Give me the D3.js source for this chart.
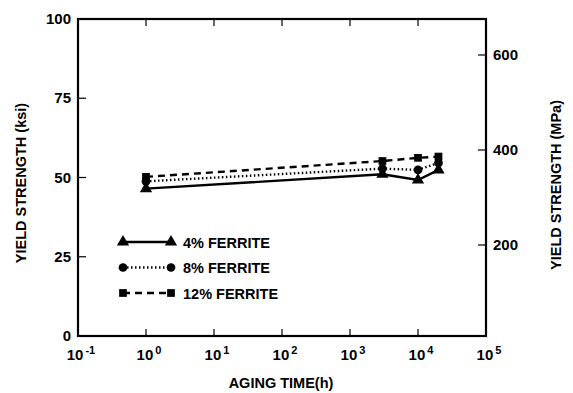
<!DOCTYPE html>
<html>
<head>
<meta charset="utf-8">
<script src="https://cdn.jsdelivr.net/npm/d3@7"></script>
<style>
  body { margin: 0; background: #fff; }
  text { font-family: "Liberation Sans", Arial, sans-serif; font-weight: bold; fill: #000; }
</style>
</head>
<body>
<svg id="chart" width="573" height="393"></svg>
<script>
// aging time (h)
const hours = [1, 3000, 10000, 20000];
// yield strength (ksi)
const ferrite4 = [46.5, 51, 49.2, 52.4];
const ferrite8 = [48.8, 52.8, 52.4, 54.6];
const ferrite12 = [50.2, 55.2, 56.2, 56.6];

const xTicks = [-1, 0, 1, 2, 3, 4, 5];
const yTicks = [0, 25, 50, 75, 100];
const mpaTicks = [200, 400, 600];
const seriesNames = ["4% FERRITE", "8% FERRITE", "12% FERRITE"];

const svg = d3.select("#chart");
const plotL = 78, plotR = 486, plotT = 19, plotB = 336;

const x = d3.scaleLog().domain([0.1, 1e5]).range([plotL, plotR]);
const y = d3.scaleLinear().domain([0, 100]).range([plotB, plotT]);
const y2 = d3.scaleLinear().domain([200, 600]).range([245, 55]);

// frame
svg.append("rect")
  .attr("x", plotL).attr("y", plotT)
  .attr("width", plotR - plotL).attr("height", plotB - plotT)
  .attr("fill", "none").attr("stroke", "#000").attr("stroke-width", 2.2);

// x ticks (inward, top & bottom)
xTicks.slice(1, -1).forEach(p => {
  const xx = x(Math.pow(10, p));
  svg.append("line").attr("x1", xx).attr("x2", xx).attr("y1", plotB).attr("y2", plotB - 7)
    .attr("stroke", "#000").attr("stroke-width", 1.2);
  svg.append("line").attr("x1", xx).attr("x2", xx).attr("y1", plotT).attr("y2", plotT + 7)
    .attr("stroke", "#000").attr("stroke-width", 1.2);
});

xTicks.forEach(p => {
  const t = svg.append("text")
    .attr("x", x(Math.pow(10, p)) + 3).attr("y", 360)
    .attr("text-anchor", "middle").attr("font-size", 15);
  t.append("tspan").text("10");
  t.append("tspan").attr("dy", -6).attr("dx", 2).attr("font-size", 11).text(p);
});

// left y ticks
yTicks.forEach(v => {
  if (v > 0 && v < 100) {
    svg.append("line").attr("x1", plotL).attr("x2", plotL + 8).attr("y1", y(v)).attr("y2", y(v))
      .attr("stroke", "#000").attr("stroke-width", 1.2);
  }
  svg.append("text").attr("x", 71).attr("y", y(v) + 5)
    .attr("text-anchor", "end").attr("font-size", 15).text(v);
});

// right MPa ticks
mpaTicks.forEach(v => {
  svg.append("line").attr("x1", plotR - 8).attr("x2", plotR).attr("y1", y2(v)).attr("y2", y2(v))
    .attr("stroke", "#000").attr("stroke-width", 1.2);
  svg.append("text").attr("x", 493).attr("y", y2(v) + 5)
    .attr("font-size", 15).text(v);
});

// axis titles
svg.append("text").attr("x", 281).attr("y", 388).attr("text-anchor", "middle")
  .attr("font-size", 14.5).text("AGING TIME(h)");
svg.append("text").attr("transform", "translate(26,183) rotate(-90)")
  .attr("text-anchor", "middle").attr("font-size", 14.5).text("YIELD STRENGTH (ksi)");
svg.append("text").attr("transform", "translate(561,185) rotate(-90)")
  .attr("text-anchor", "middle").attr("font-size", 14.5).text("YIELD STRENGTH (MPa)");

// series
const series = [
  { vals: ferrite4, dash: null, sym: d3.symbolTriangle, size: 65 },
  { vals: ferrite8, dash: "1.5,2.5", sym: d3.symbolCircle, size: 60 },
  { vals: ferrite12, dash: "7,5", sym: d3.symbolSquare, size: 60 }
];

const line = d3.line().x(d => x(d[0])).y(d => y(d[1]));

series.forEach((s, i) => {
  const pts = hours.map((h, j) => [h, s.vals[j]]);
  svg.append("path").attr("d", line(pts))
    .attr("fill", "none").attr("stroke", "#000").attr("stroke-width", 2.4)
    .attr("stroke-dasharray", s.dash);
  pts.forEach(p => {
    svg.append("path").attr("d", d3.symbol().type(s.sym).size(s.size)())
      .attr("transform", `translate(${x(p[0])},${y(p[1])})`).attr("fill", "#000");
  });

  // legend
  const ly = 242 + i * 25.5;
  svg.append("line").attr("x1", 123).attr("x2", 171).attr("y1", ly).attr("y2", ly)
    .attr("stroke", "#000").attr("stroke-width", 2.4).attr("stroke-dasharray", s.dash);
  [123, 171].forEach(lx => {
    svg.append("path").attr("d", d3.symbol().type(s.sym).size(s.size)())
      .attr("transform", `translate(${lx},${ly})`).attr("fill", "#000");
  });
  svg.append("text").attr("x", 183).attr("y", ly + 5.5)
    .attr("font-size", 14.5).text(seriesNames[i]);
});
</script>
</body>
</html>
